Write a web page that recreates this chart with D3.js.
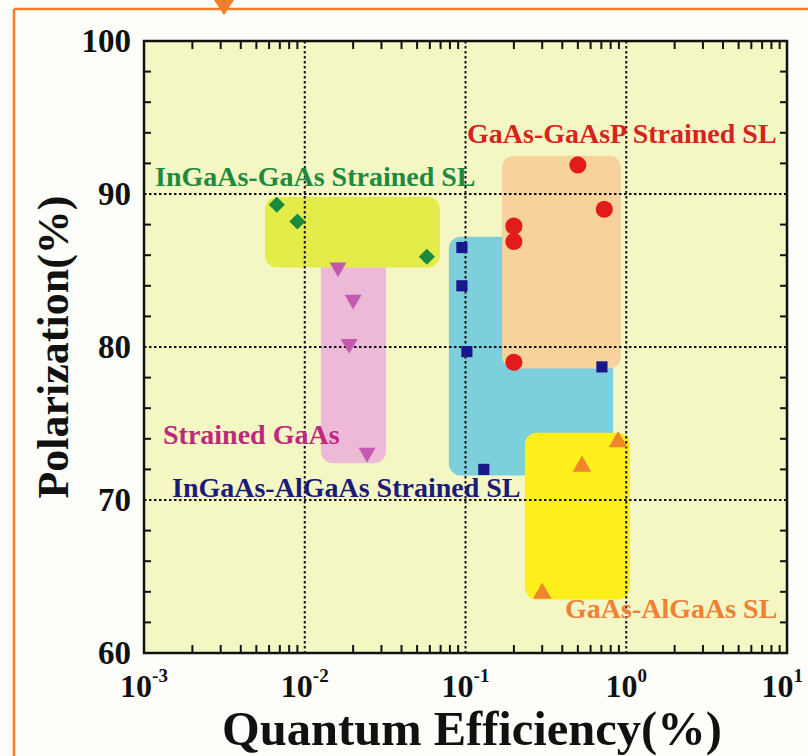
<!DOCTYPE html>
<html><head><meta charset="utf-8">
<script src="https://cdn.jsdelivr.net/npm/d3@7"></script>
<style>
html,body{margin:0;padding:0;background:#fff;}
svg{display:block;}
text{font-family:"Liberation Serif","Times New Roman",serif;font-weight:bold;}
</style></head>
<body>
<svg id="chart" width="808" height="756"></svg>
<script>
// ---- data ----
const xTickExps = [-3, -2, -1, 0, 1];
const yTicks = [60, 70, 80, 90, 100];

const ingaasGaasQE = [0.0067, 0.0090, 0.0575];
const ingaasGaasPol = [89.3, 88.2, 85.9];

const strainedGaasQE = [0.0161, 0.0200, 0.0189, 0.0244];
const strainedGaasPol = [85.2, 83.1, 80.2, 73.1];

const ingaasAlgaasQE = [0.095, 0.095, 0.102, 0.706, 0.130];
const ingaasAlgaasPol = [86.5, 84.0, 79.7, 78.7, 72.0];

const gaasGaaspQE = [0.50, 0.73, 0.20, 0.20, 0.20];
const gaasGaaspPol = [91.9, 89.0, 87.9, 86.9, 79.0];

const gaasAlgaasQE = [0.89, 0.53, 0.30];
const gaasAlgaasPol = [73.8, 72.2, 63.9];

// highlight regions: [qeMin, qeMax, polMin, polMax]
const boxCyan = [0.0788, 0.828, 71.6, 87.2];
const boxOrange = [0.169, 0.927, 78.6, 92.5];
const boxYellow = [0.234, 1.055, 63.5, 74.4];
const boxPink = [0.0126, 0.032, 72.4, 86.0];
const boxGreen = [0.00566, 0.0693, 85.2, 89.8];

const seriesLabels = ["InGaAs-GaAs Strained SL", "GaAs-GaAsP Strained SL", "Strained GaAs", "InGaAs-AlGaAs Strained SL", "GaAs-AlGaAs SL"];
const xTitle = "Quantum Efficiency(%)";
const yTitle = "Polarization(%)";

// ---- layout ----
const L = 144, R = 787, T = 41, B = 653;
const svg = d3.select("#chart");
const x = d3.scaleLog().domain([1e-3, 10]).range([L, R]);
const y = d3.scaleLinear().domain([60, 100]).range([B, T]);

// frame decoration
svg.append("rect").attr("x", 0).attr("y", 0).attr("width", 808).attr("height", 756).attr("fill", "#fdfdf9");
svg.append("line").attr("x1", 14).attr("x2", 808).attr("y1", 9).attr("y2", 9).attr("stroke", "#f07d2a").attr("stroke-width", 2.5);
svg.append("line").attr("x1", 14).attr("x2", 14).attr("y1", 9).attr("y2", 756).attr("stroke", "#f07d2a").attr("stroke-width", 2.5);
svg.append("path").attr("d", "M214,0 L234,0 L224,15 Z").attr("fill", "#f07d2a");

// plot background
svg.append("rect").attr("x", L).attr("y", T).attr("width", R - L).attr("height", B - T).attr("fill", "#f4f7c3");

// boxes
function box(b, color) {
  svg.append("rect")
    .attr("x", x(b[0])).attr("y", y(b[3]))
    .attr("width", x(b[1]) - x(b[0])).attr("height", y(b[2]) - y(b[3]))
    .attr("rx", 12).attr("ry", 12).attr("fill", color);
}
box(boxCyan, "#7ecfdc");
box(boxOrange, "#f7d29c");
box(boxYellow, "#fcef1c");
box(boxPink, "#ecb9d6");
box(boxGreen, "#e3ec48");

// gridlines
const grid = svg.append("g").attr("stroke", "#111").attr("stroke-width", 2).attr("stroke-dasharray", "2.5,2.5");
[-2, -1, 0].forEach(e => grid.append("line").attr("x1", x(Math.pow(10, e))).attr("x2", x(Math.pow(10, e))).attr("y1", T).attr("y2", B));
[70, 80, 90].forEach(v => grid.append("line").attr("x1", L).attr("x2", R).attr("y1", y(v)).attr("y2", y(v)));

// minor ticks
const tk = svg.append("g").attr("stroke", "#111").attr("stroke-width", 2);
for (let e = -3; e < 1; e++) {
  for (let m = 2; m <= 9; m++) {
    const xv = x(m * Math.pow(10, e));
    tk.append("line").attr("x1", xv).attr("x2", xv).attr("y1", B).attr("y2", B - 8);
    tk.append("line").attr("x1", xv).attr("x2", xv).attr("y1", T).attr("y2", T + 8);
  }
}
for (let v = 62; v < 100; v += 2) {
  if (v % 10 === 0) continue;
  tk.append("line").attr("x1", L).attr("x2", L + 7).attr("y1", y(v)).attr("y2", y(v));
  tk.append("line").attr("x1", R).attr("x2", R - 7).attr("y1", y(v)).attr("y2", y(v));
}

// axes frame
svg.append("rect").attr("x", L).attr("y", T).attr("width", R - L).attr("height", B - T)
  .attr("fill", "none").attr("stroke", "#111").attr("stroke-width", 2.5);

// tick labels
svg.selectAll(".ytl").data(yTicks).enter().append("text")
  .attr("x", L - 13).attr("y", d => y(d) + 11)
  .attr("text-anchor", "end").attr("font-size", 33).attr("fill", "#111").text(d => d);

const xl = svg.selectAll(".xtl").data(xTickExps).enter().append("text")
  .attr("x", d => d === 1 ? 803 : x(Math.pow(10, d)))
  .attr("y", 697)
  .attr("text-anchor", d => d === 1 ? "end" : "middle").attr("font-size", 32).attr("fill", "#111");
xl.append("tspan").text("10");
xl.append("tspan").attr("font-size", 19).attr("dy", -15).text(d => d);

// titles
svg.append("text").attr("x", 472).attr("y", 745).attr("text-anchor", "middle")
  .attr("font-size", 48.5).attr("fill", "#111").text(xTitle);
svg.append("text").attr("transform", `translate(68,${(T + B) / 2}) rotate(-90)`).attr("text-anchor", "middle")
  .attr("font-size", 44).attr("fill", "#111").text(yTitle);

// markers
const sym = (type, size) => d3.symbol().type(type).size(size)();
function points(qs, ps, color, type, size, rot) {
  svg.append("g").selectAll("path").data(qs).enter().append("path")
    .attr("d", sym(type, size))
    .attr("transform", (d, i) => `translate(${x(d)},${y(ps[i])}) rotate(${rot})`)
    .attr("fill", color);
}
points(ingaasGaasQE, ingaasGaasPol, "#1b8a3c", d3.symbolSquare, 130, 45);
points(strainedGaasQE, strainedGaasPol, "#c25ab2", d3.symbolTriangle, 125, 180);
points(ingaasAlgaasQE, ingaasAlgaasPol, "#19188a", d3.symbolSquare, 125, 0);
points(gaasGaaspQE, gaasGaaspPol, "#e31b1b", d3.symbolCircle, 230, 0);
points(gaasAlgaasQE, gaasAlgaasPol, "#f0862c", d3.symbolTriangle, 150, 0);

// series labels
const labelData = [
  {t: seriesLabels[0], x: 155, y: 186, c: "#1f8a3e"},
  {t: seriesLabels[1], x: 467, y: 143, c: "#d8231d"},
  {t: seriesLabels[2], x: 163, y: 444, c: "#c0287f"},
  {t: seriesLabels[3], x: 172, y: 497, c: "#1c1a78"},
  {t: seriesLabels[4], x: 565, y: 618, c: "#ef8036"}
];
svg.selectAll(".sl").data(labelData).enter().append("text")
  .attr("x", d => d.x).attr("y", d => d.y).attr("font-size", 28).attr("fill", d => d.c).text(d => d.t);
</script>
</body></html>
